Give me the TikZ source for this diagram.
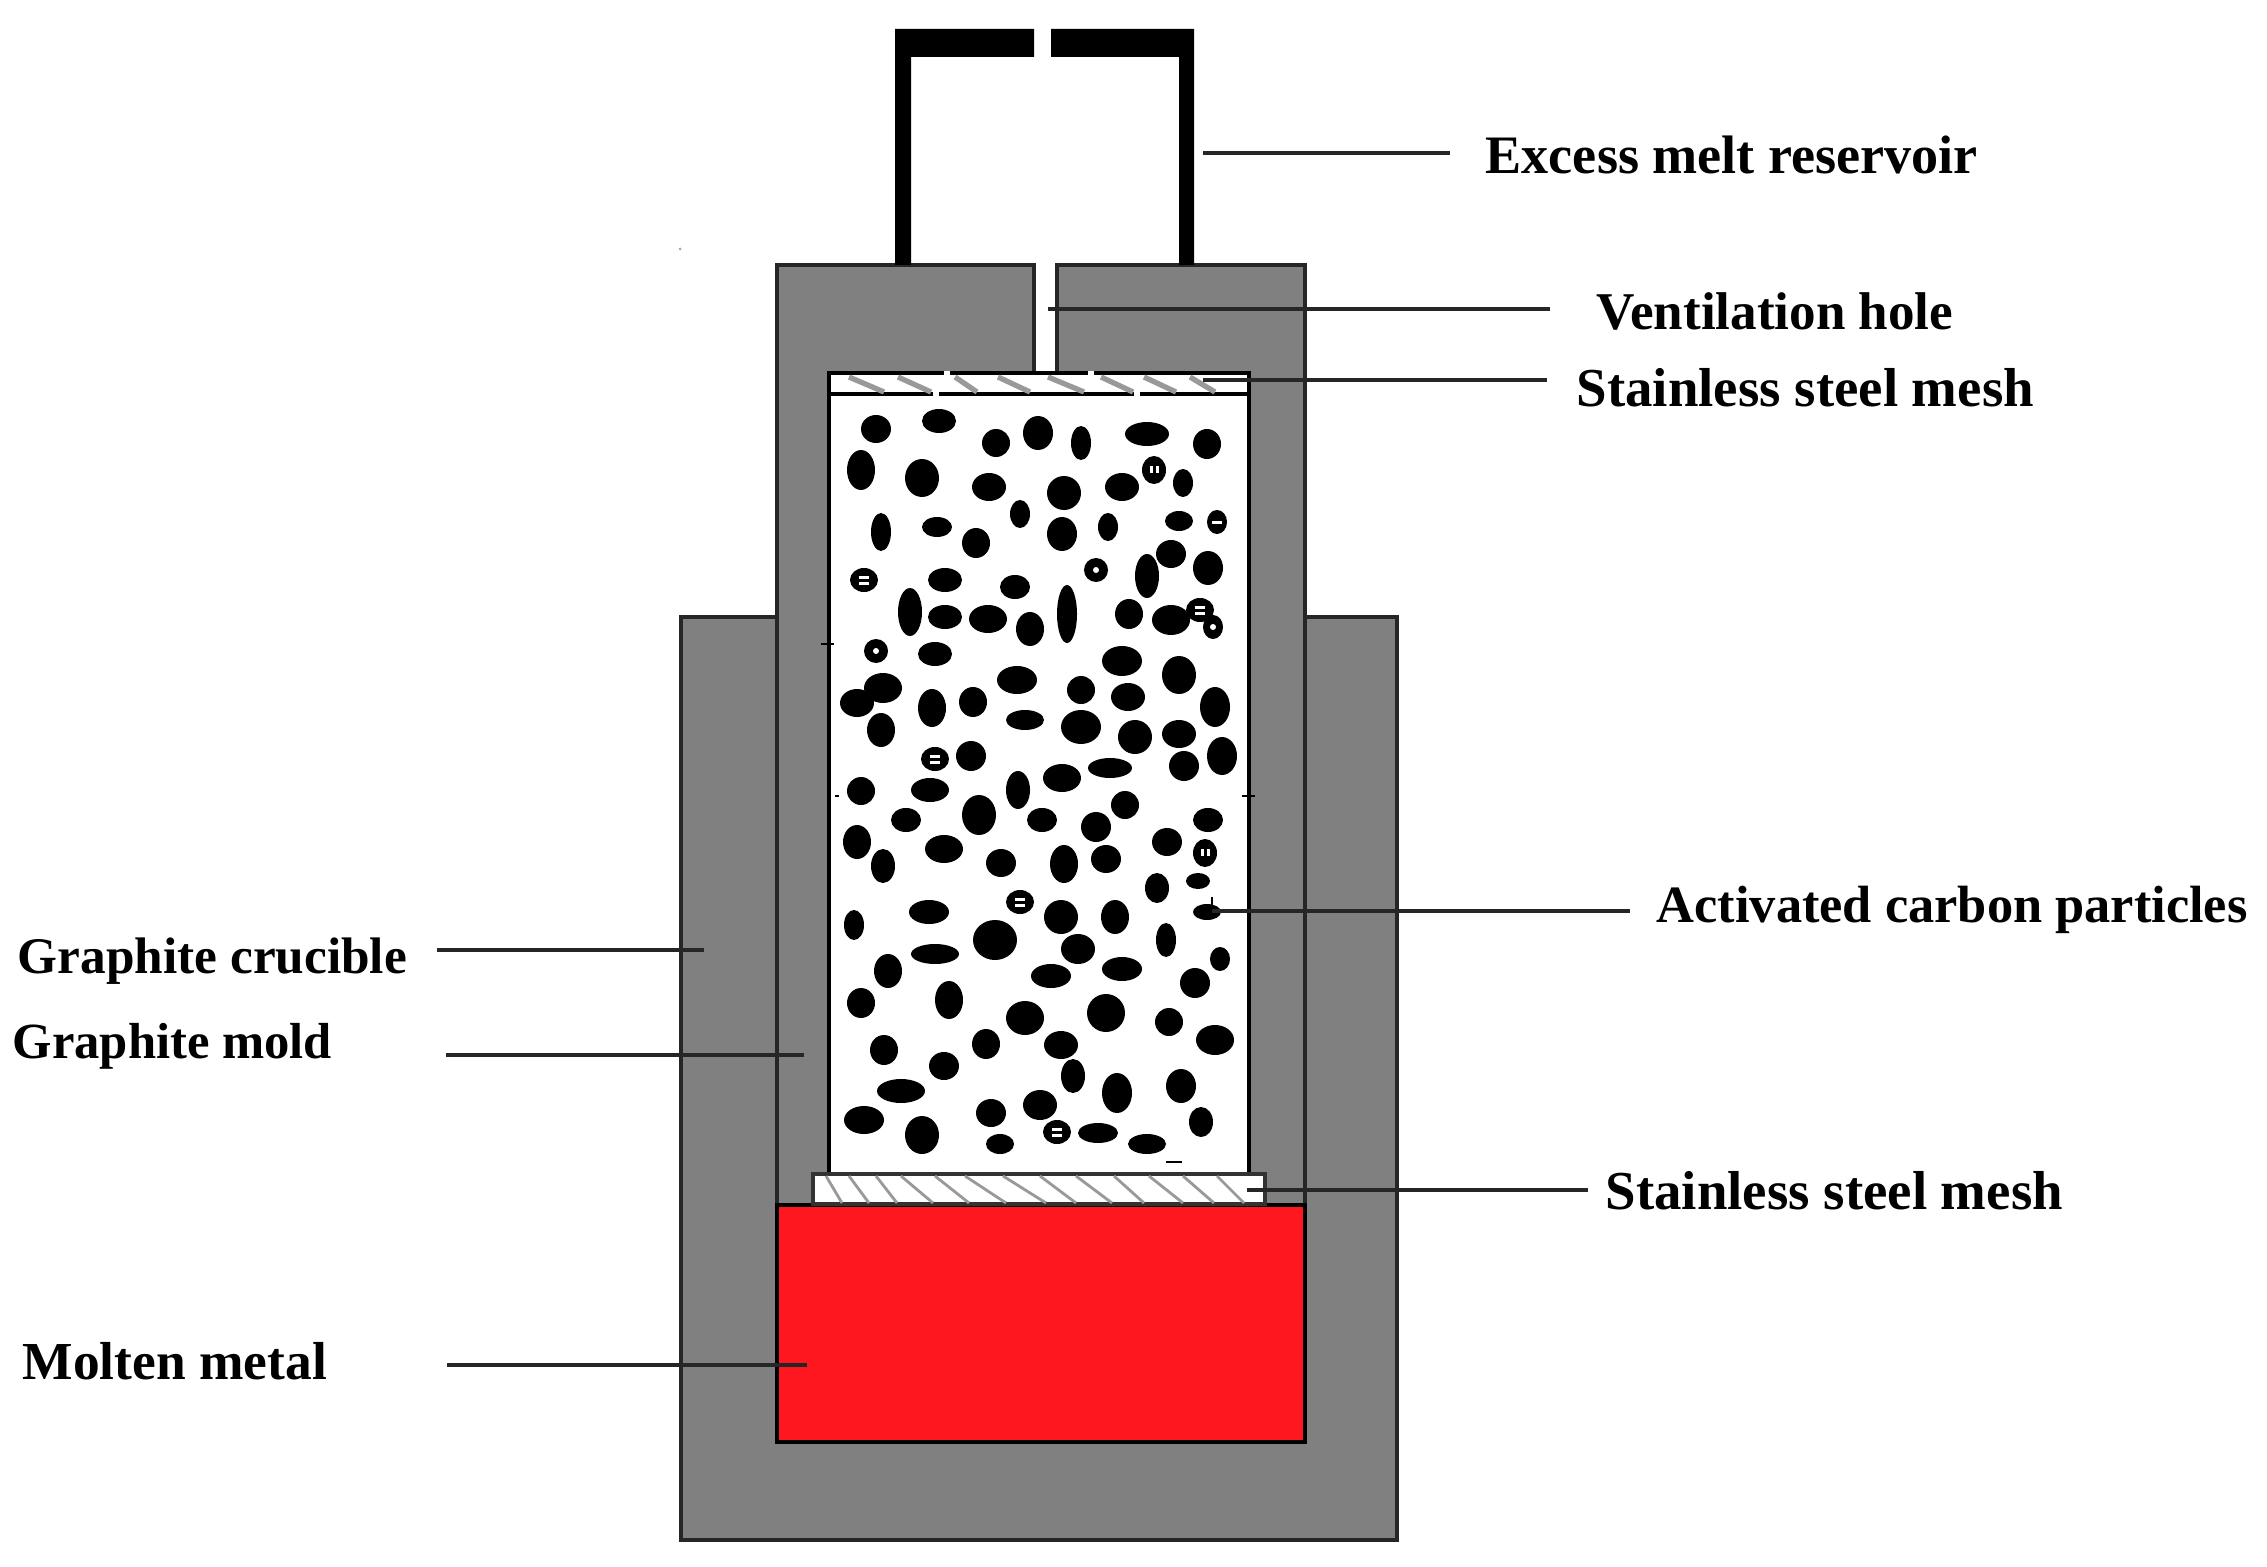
\documentclass[tikz,border=0pt]{standalone}
\usepackage{fontspec}
\setmainfont{Liberation Serif}
\definecolor{wallgray}{HTML}{808080}
\definecolor{meltred}{HTML}{FF1720}
\tikzset{
	wall/.style={fill=wallgray, draw=black!85, line width=1pt},
	leader/.style={draw=black!85, line width=1pt},
	lbl/.style={font=\bfseries\fontsize{#1}{18}\selectfont, inner sep=0pt, anchor=west},
	hatchline/.style={draw=black!40, line width=0.8pt}
}
\begin{document}
\begin{tikzpicture}[x=0.01cm, y=-0.01cm]
	\useasboundingbox (0,0) rectangle (2267,1567);

	\filldraw[wall] (681,617) rectangle (1397,1540);
	\filldraw[wall] (777,1205) -- (777,265) -- (1034,265) -- (1034,373) -- (1057,373) -- (1057,265) -- (1305,265) -- (1305,1205) -- cycle;
	\filldraw[fill=meltred, draw=black, line width=1.1pt] (777,1205) rectangle (1305,1442);
	\filldraw[fill=white, draw=black, line width=1pt] (829,373) rectangle (1249,1174);

	\fill (895,265) -- (895,29) -- (1034,29) -- (1034,57) -- (911,57) -- (911,265) -- cycle;
	\fill (1194,265) -- (1194,29) -- (1051,29) -- (1051,57) -- (1179,57) -- (1179,265) -- cycle;

	\filldraw[fill=white, draw=black!80, line width=1.1pt] (813,1174) rectangle (1265,1204);
	\foreach \xa/\xb in {826/842,849/869,876/897,901/933,935/969,965/1006,1003/1046,1040/1076,1076/1112,1114/1144,1149/1183,1183/1214,1217/1244}
		\draw[hatchline] (\xa,1176) -- (\xb,1203);

	\filldraw[fill=white, draw=black, line width=1pt] (829,373) rectangle (1249,394);
	\foreach \xa/\xb in {849/884,898/931,955/977,998/1030,1048/1084,1101/1133,1144/1176,1190/1215}
		\draw[hatchline, line width=1.5pt] (\xa,377) -- (\xb,392);
	\foreach \xa/\ya in {947/373,1091/373,936/394,1137/394}
		\fill[white] (\xa-3,\ya-2) rectangle (\xa+3,\ya+2);

	\foreach \cx/\cy/\rx/\ry in {
		876/429/15/14, 939/421/17/12, 996/443/14/14, 1038/433/15/17, 1081/443/10/17, 1147/434/22/12, 1207/444/14/15,
		861/470/14/20, 922/478/17/19, 989/487/17/14, 1064/493/17/17, 1122/487/17/14, 1183/483/10/14,
		881/532/10/19, 937/527/15/10, 976/543/14/15, 1020/514/10/14, 1062/534/15/17, 1108/527/10/14, 1179/521/14/10,
		1171/554/15/14, 1147/576/12/22, 1208/568/15/17, 945/580/17/12, 1015/587/15/12, 910/612/12/24, 945/617/17/12,
		988/619/19/14, 1030/629/14/17, 1067/614/10/29, 1129/614/14/15, 1171/620/19/15, 935/654/17/12, 1122/661/20/15,
		1179/675/17/19, 1017/680/20/14, 1081/690/14/14, 1128/697/17/14, 1215/707/15/20, 883/688/19/15, 857/703/17/14,
		932/708/14/19, 973/702/14/15, 881/730/14/17, 1025/720/19/10, 1081/727/20/17, 1135/737/17/17, 1179/734/17/14,
		1222/756/15/19, 1184/766/15/15, 971/756/15/15, 1110/768/22/10, 1062/778/19/14, 1018/790/12/19, 861/791/14/14,
		930/790/19/12, 1125/805/14/14, 979/815/17/20, 906/820/15/12, 1042/820/15/12, 1096/827/15/15, 1208/820/15/12,
		857/842/14/17, 944/849/19/14, 883/866/12/17, 1001/863/15/14, 1064/864/14/19, 1106/859/15/14, 1167/842/15/14,
		1157/888/12/15, 1198/881/12/8, 929/912/20/12, 1061/917/17/17, 1115/917/14/17, 1207/912/14/8, 854/925/10/15,
		995/940/22/20, 1078/949/17/15, 1166/940/10/17, 935/954/24/10, 1220/959/10/12, 1122/969/20/12, 1051/976/20/12,
		888/971/14/17, 1195/983/15/15, 861/1003/14/15, 949/1000/14/19, 1025/1018/19/17, 1106/1013/19/19, 1169/1022/14/14,
		1215/1040/19/15, 986/1044/14/15, 1061/1045/17/14, 884/1050/14/15, 944/1066/15/14, 1073/1076/12/17, 1117/1093/15/20,
		1181/1086/15/17, 901/1091/24/12, 1040/1105/17/15, 991/1113/15/14, 864/1120/20/14, 922/1135/17/19, 1201/1122/12/15,
		1000/1144/14/10, 1098/1133/20/10, 1147/1144/19/10}
		\fill (\cx,\cy) ellipse [x radius=\rx, y radius=\ry];

	\foreach \cx/\cy/\rx/\ry in {864/580/14/12, 1200/610/14/12, 935/759/14/12, 1020/902/14/12, 1057/1132/14/12}{
		\fill (\cx,\cy) ellipse [x radius=\rx, y radius=\ry];
		\fill[white] (\cx-5,\cy-4) rectangle (\cx+5,\cy-1);
		\fill[white] (\cx-5,\cy+2) rectangle (\cx+5,\cy+5);
	}
	\foreach \cx/\cy/\rx/\ry in {1154/470/12/14, 1205/853/12/14}{
		\fill (\cx,\cy) ellipse [x radius=\rx, y radius=\ry];
		\fill[white] (\cx-4,\cy-4) rectangle (\cx-1,\cy+3);
		\fill[white] (\cx+2,\cy-4) rectangle (\cx+5,\cy+3);
	}
	\foreach \cx/\cy/\rx/\ry in {1096/570/12/12, 1213/627/10/12, 876/651/12/12}{
		\fill (\cx,\cy) ellipse [x radius=\rx, y radius=\ry];
		\fill[white] (\cx,\cy) circle [radius=3];
	}
	\fill (1217,522) ellipse [x radius=10, y radius=12];
	\fill[white] (1212,521) rectangle (1222,524);

	\foreach \xa/\ya/\xb/\yb in {1166/1162/1182/1162, 821/644/834/644, 1242/796/1255/796, 835/796/839/796, 1212/897/1212/906}
		\draw[line width=0.7pt] (\xa,\ya) -- (\xb,\yb);
	\fill[black!35] (680,249) circle [radius=1.5];

	\path (1485,155) node[lbl=15.4] (reservoir){Excess melt reservoir}
	(1596,311) node[lbl=15.1] (hole){Ventilation hole}
	(1576,388) node[lbl=15.6] (topmesh){Stainless steel mesh}
	(1656,910) node[lbl=14.9] (carbon){Activated carbon particles}
	(1605,1191) node[lbl=15.6] (botmesh){Stainless steel mesh}
	(17,961) node[lbl=14.6] (crucible){Graphite crucible}
	(12,1046) node[lbl=14.4] (mold){Graphite mold}
	(22,1361) node[lbl=15.2] (melt){Molten metal};

	\coordinate (reservoirtip) at (1203,153);
	\coordinate (holetip) at (1048,309);
	\coordinate (topmeshtip) at (1203,380);
	\coordinate (carbontip) at (1212,911);
	\coordinate (botmeshtip) at (1247,1190);
	\coordinate (crucibletip) at (704,950);
	\coordinate (moldtip) at (804,1055);
	\coordinate (melttip) at (807,1365);

	\foreach \lbl/\gap in {reservoir/35, hole/46, topmesh/29, carbon/26, botmesh/17}
		\draw[leader, shorten >=\gap*0.01cm] (\lbl tip) -- (\lbl tip -| \lbl.west);
	\foreach \lbl/\gap in {crucible/29, mold/113, melt/119}
		\draw[leader, shorten >=\gap*0.01cm] (\lbl tip) -- (\lbl tip -| \lbl.east);
\end{tikzpicture}
\end{document}
